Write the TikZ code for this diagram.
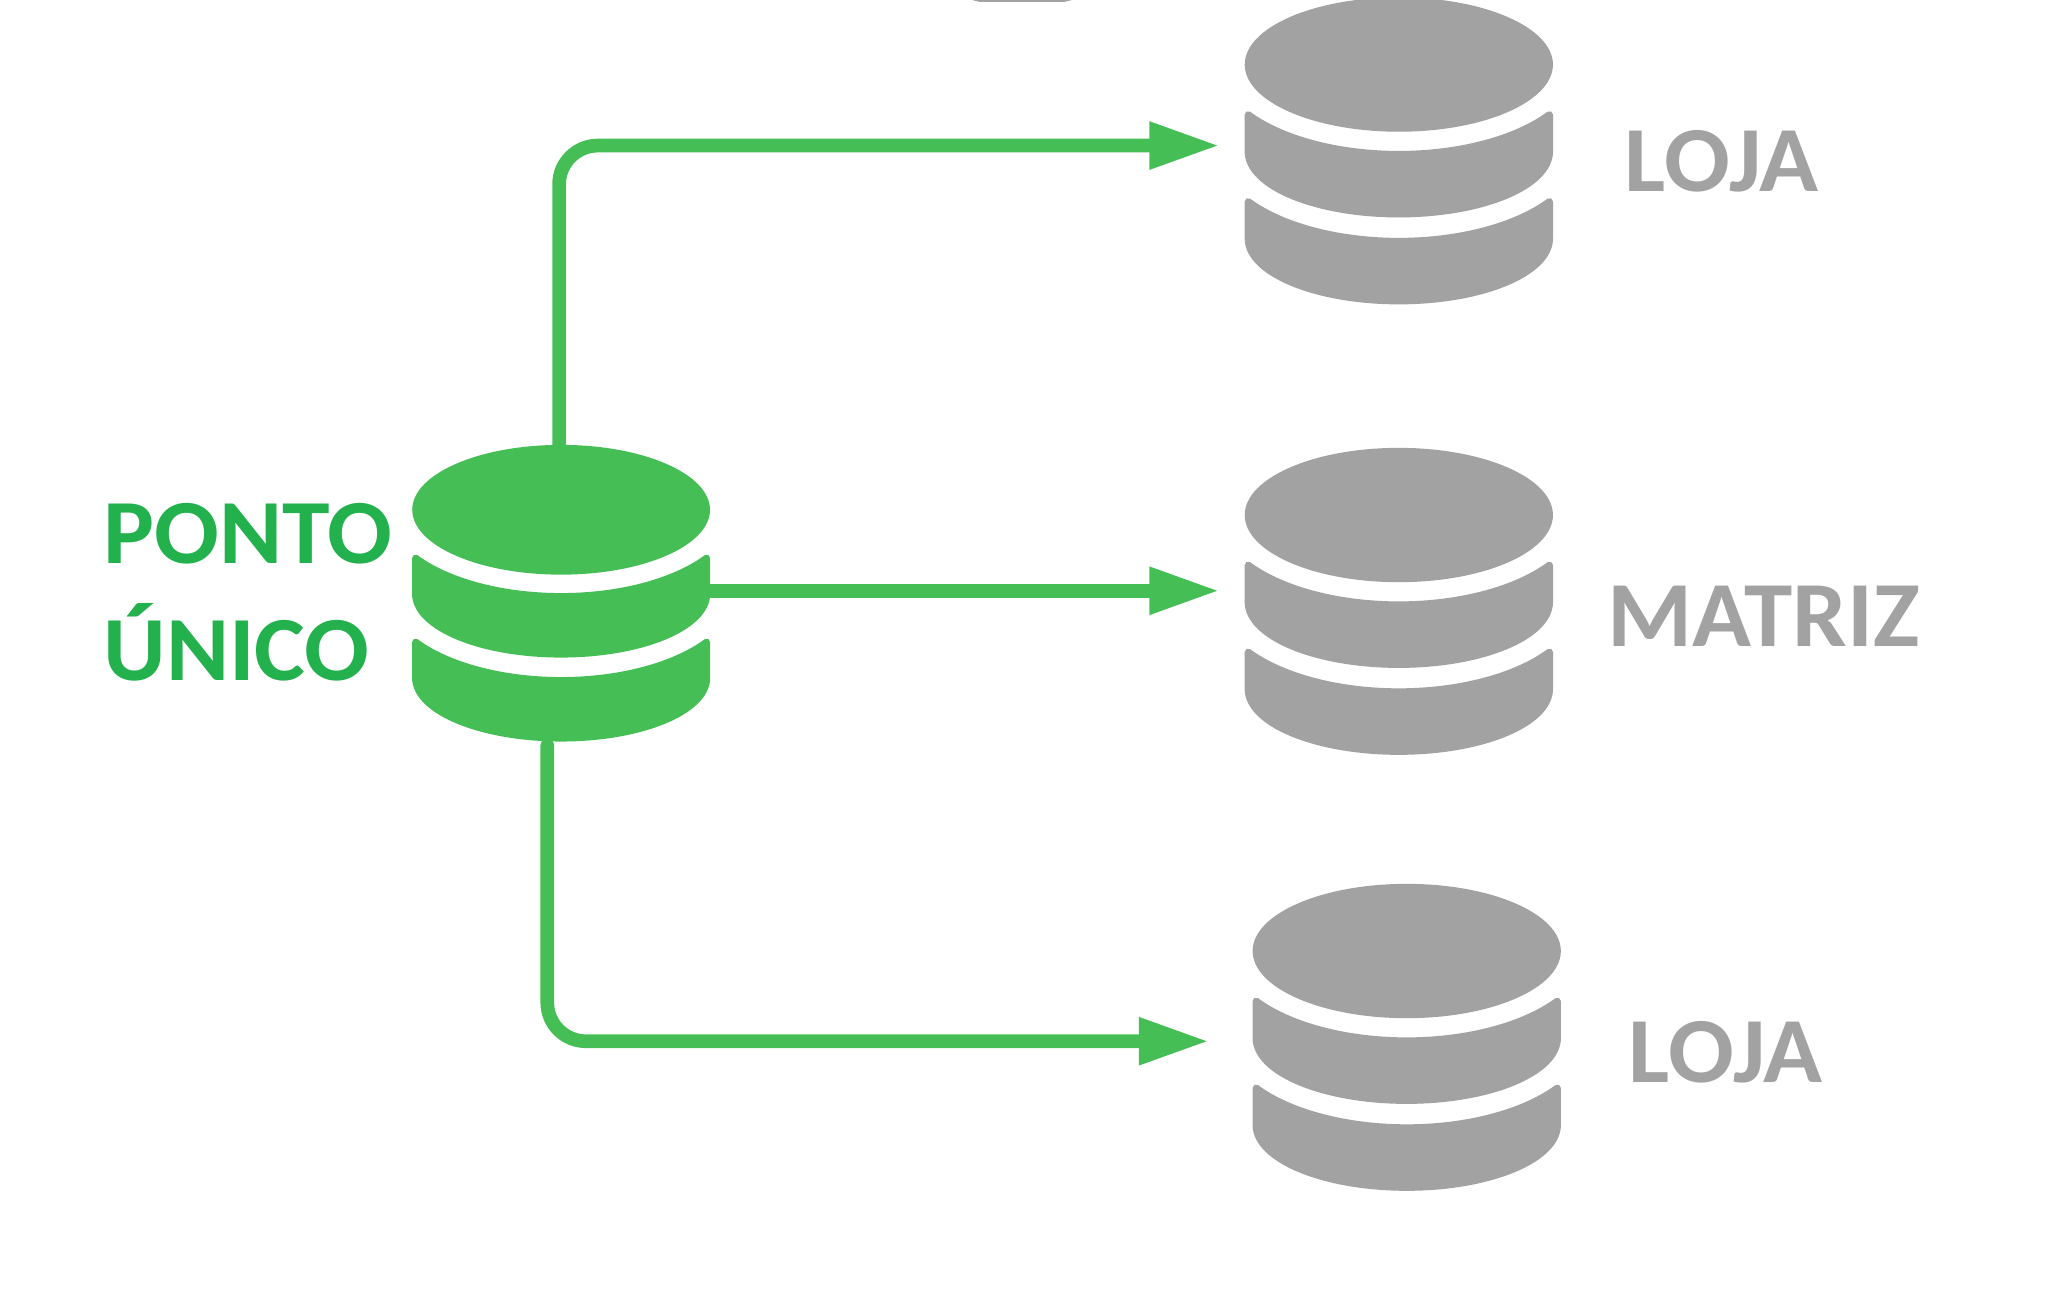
\documentclass[tikz,border=0pt]{standalone}
\usepackage{fontspec}
\setmainfont[BoldFeatures={FakeStretch=1.045}]{Carlito}
\usetikzlibrary{arrows.meta}
\definecolor{iconGreen}{HTML}{45BE56}
\definecolor{textGreen}{HTML}{22B14C}
\definecolor{iconGray}{HTML}{A2A2A2}
\tikzset{
	dbicon/.pic={
		\fill (0,0) ellipse [x radius=117, y radius=51];
		\filldraw[line width=2pt, line join=round] (-114.4,38) arc [start angle=146, end angle=34, x radius=138, y radius=68.6] -- (114.4,66) arc [start angle=0, end angle=180, x radius=114.4, y radius=47.4] -- cycle;
		\filldraw[line width=2pt, line join=round] (-114.4,104) arc [start angle=146, end angle=34, x radius=138, y radius=68.6] -- (114.4,132) arc [start angle=0, end angle=180, x radius=114.4, y radius=47.4] -- cycle;
	},
	flow/.style={iconGreen, line width=3.9pt, rounded corners=11pt, line cap=round, -{Triangle[length=20pt, width=12.6pt]}},
	label/.style={font=\bfseries\fontsize{26.5}{26.5}\selectfont, inner sep=0pt, anchor=base west},
	greenlabel/.style={label, font=\bfseries\fontsize{26.1}{26.1}\selectfont, textGreen},
}
\begin{document}
\begin{tikzpicture}[x=0.013172cm, y=-0.013172cm]
	\useasboundingbox (0,0) rectangle (1567,977.9);
	\pic[fill=iconGreen, draw=iconGreen, scale=0.966] at (426,387) {dbicon};
	\pic[fill=iconGray, draw=iconGray] at (1062,49) {dbicon};
	\pic[fill=iconGray, draw=iconGray] at (1062,391) {dbicon};
	\pic[fill=iconGray, draw=iconGray] at (1068,722) {dbicon};
	\fill[iconGray] (738,0) -- (814,0) -- (808,1.5) -- (744,1.5) -- cycle;
	%
	\coordinate (pontoN) at (424.5,340);
	\coordinate (pontoE) at (539,448.5);
	\coordinate (pontoS) at (415.5,566);
	\coordinate (lojaA) at (926,110.5);
	\coordinate (matriz) at (926,448.5);
	\coordinate (lojaB) at (918,790.5);
	%
	\draw[flow] (pontoN) |- (lojaA);
	\draw[flow] (pontoE) -- (matriz);
	\draw[flow] (pontoS) |- (lojaB);
	%
	\node[greenlabel] (ponto) at (78,428) {PONTO};
	\node[greenlabel] (unico) at (78,517) {ÚNICO};
	\node[label, iconGray] (lojaAtxt) at (1233,145) {LOJA};
	\node[label, iconGray] (matriztxt) at (1220,491) {MATRIZ};
	\node[label, iconGray] (lojaBtxt) at (1236,822) {LOJA};
\end{tikzpicture}
\end{document}
